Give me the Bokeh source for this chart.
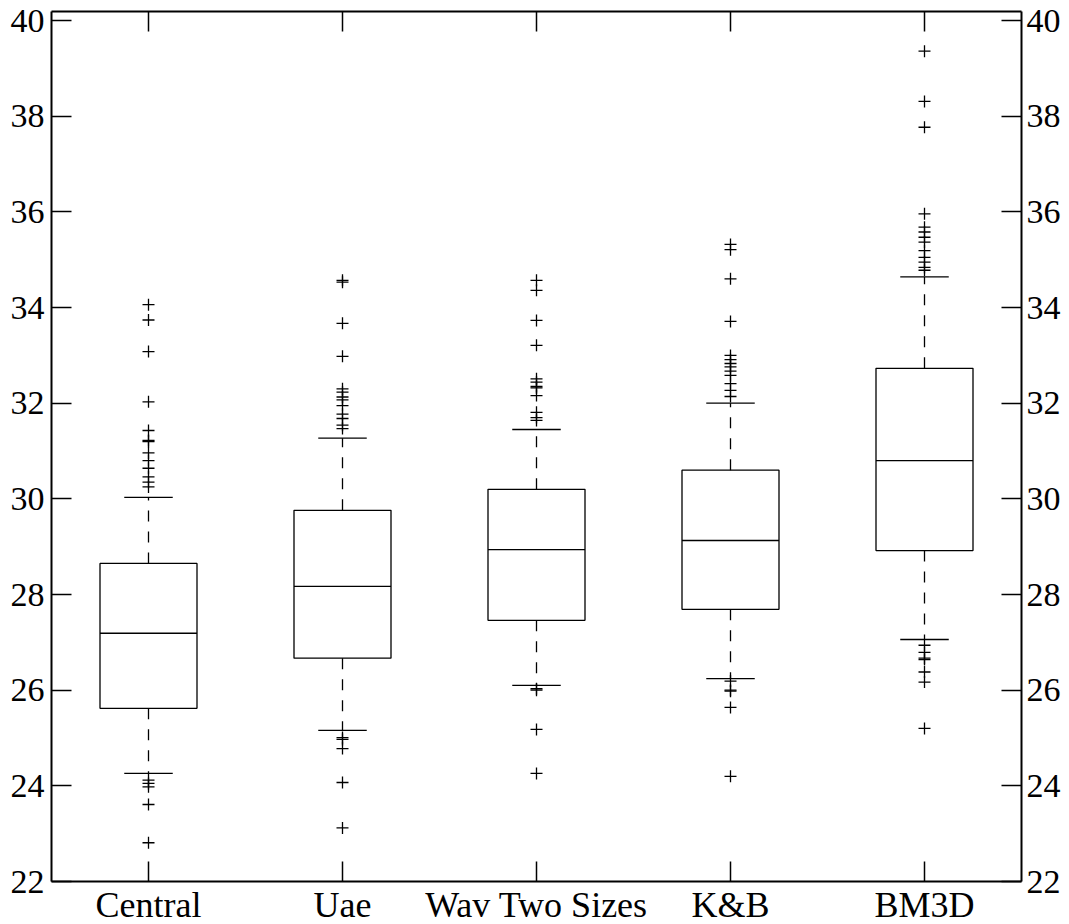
from bokeh.plotting import figure
from bokeh.models import Range1d, LinearAxis, FixedTicker
from bokeh.embed import file_html
from bokeh.resources import INLINE

categories = ["Central", "Uae", "Wav Two Sizes", "K&B", "BM3D"]

q1 = [25.62, 26.67, 27.46, 27.69, 28.92]
median = [27.19, 28.17, 28.94, 29.13, 30.80]
q3 = [28.65, 29.76, 30.20, 30.60, 32.73]
lower_whisker = [24.26, 25.16, 26.10, 26.24, 27.06]
upper_whisker = [30.03, 31.27, 31.45, 32.00, 34.64]

outliers_central = [34.06, 33.74, 33.08, 32.03, 31.43, 31.22, 31.20, 30.96, 30.80,
                    30.64, 30.46, 30.35, 30.25, 24.12, 24.05, 23.98, 23.61, 22.81]
outliers_uae = [34.57, 34.53, 33.67, 32.98, 32.30, 32.23, 32.13, 32.07, 31.95,
                31.77, 31.68, 31.54, 31.47, 25.01, 24.97, 24.78, 24.07, 23.12]
outliers_wav = [34.57, 34.36, 33.73, 33.21, 32.51, 32.44, 32.35, 32.32, 32.16,
                31.81, 31.70, 31.64, 26.03, 26.00, 25.18, 24.26]
outliers_kb = [35.32, 35.21, 34.60, 33.71, 33.00, 32.91, 32.83, 32.76, 32.67,
               32.58, 32.41, 32.27, 32.14, 26.19, 26.00, 25.98, 25.64, 24.20]
outliers_bm3d = [39.36, 38.31, 37.77, 35.96, 35.68, 35.58, 35.47, 35.37, 35.19,
                 35.05, 34.95, 34.84, 34.78, 26.94, 26.79, 26.67, 26.64, 26.38,
                 26.17, 25.20]
outliers = [outliers_central, outliers_uae, outliers_wav, outliers_kb, outliers_bm3d]

y_ticks = [22, 24, 26, 28, 30, 32, 34, 36, 38, 40]

FONT = "Liberation Serif"
FS = "34px"
FS_CAT = "36px"

xs = [i + 1 for i in range(len(categories))]
box_w = 0.5
cap_w = 0.25

p = figure(frame_width=970, frame_height=870, output_backend="svg", toolbar_location=None,
           x_range=Range1d(0.5, 5.5), y_range=Range1d(22, 40.19),
           min_border_left=51, min_border_right=10, min_border_top=11,
           min_border_bottom=10, x_axis_location=None, y_axis_location=None)
p.grid.visible = False
p.outline_line_color = None
p.background_fill_color = "white"
p.border_fill_color = "white"


def style_axis(ax, labels=True):
    ax.axis_line_color = "black"
    ax.axis_line_width = 2
    ax.major_tick_line_color = "black"
    ax.major_tick_line_width = 1.5
    ax.major_tick_in = 20
    ax.major_tick_out = 0
    ax.minor_tick_line_color = None
    ax.major_label_text_font = FONT
    ax.major_label_text_color = "black"
    if labels:
        ax.major_label_text_font_size = FS
        ax.major_label_standoff = 6
    else:
        ax.major_label_text_font_size = "1px"
        ax.major_label_standoff = 0


left = LinearAxis(ticker=FixedTicker(ticks=y_ticks))
right = LinearAxis(ticker=FixedTicker(ticks=y_ticks))
bottom = LinearAxis(ticker=FixedTicker(ticks=xs),
                    major_label_overrides={x: c for x, c in zip(xs, categories)})
top = LinearAxis(ticker=FixedTicker(ticks=xs),
                 major_label_overrides={x: "" for x in xs})
style_axis(left)
style_axis(right)
style_axis(bottom)
style_axis(top, labels=False)
left.major_label_standoff = 7
right.major_label_standoff = 5
bottom.major_label_standoff = 3
bottom.major_label_text_font_size = FS_CAT
p.add_layout(left, "left")
p.add_layout(right, "right")
p.add_layout(bottom, "below")
p.add_layout(top, "above")

# whiskers
p.segment(x0=xs, y0=q3, x1=xs, y1=upper_whisker, line_color="black",
          line_width=1.3, line_dash="11 10")
p.segment(x0=xs, y0=q1, x1=xs, y1=lower_whisker, line_color="black",
          line_width=1.3, line_dash="11 10")
# caps
p.segment(x0=[x - cap_w / 2 for x in xs], y0=upper_whisker,
          x1=[x + cap_w / 2 for x in xs], y1=upper_whisker,
          line_color="black", line_width=1.3)
p.segment(x0=[x - cap_w / 2 for x in xs], y0=lower_whisker,
          x1=[x + cap_w / 2 for x in xs], y1=lower_whisker,
          line_color="black", line_width=1.3)
# boxes
p.vbar(x=xs, width=box_w, bottom=q1, top=q3, fill_color=None,
       line_color="black", line_width=1.3)
# medians
p.segment(x0=[x - box_w / 2 for x in xs], y0=median,
          x1=[x + box_w / 2 for x in xs], y1=median,
          line_color="black", line_width=1.3)

# outliers
ox = []
oy = []
for x, vals in zip(xs, outliers):
    ox.extend([x] * len(vals))
    oy.extend(vals)
p.scatter(x=ox, y=oy, marker="cross", size=12, line_color="black", line_width=1.3)

open("out.html", "w").write(file_html(p, INLINE))
